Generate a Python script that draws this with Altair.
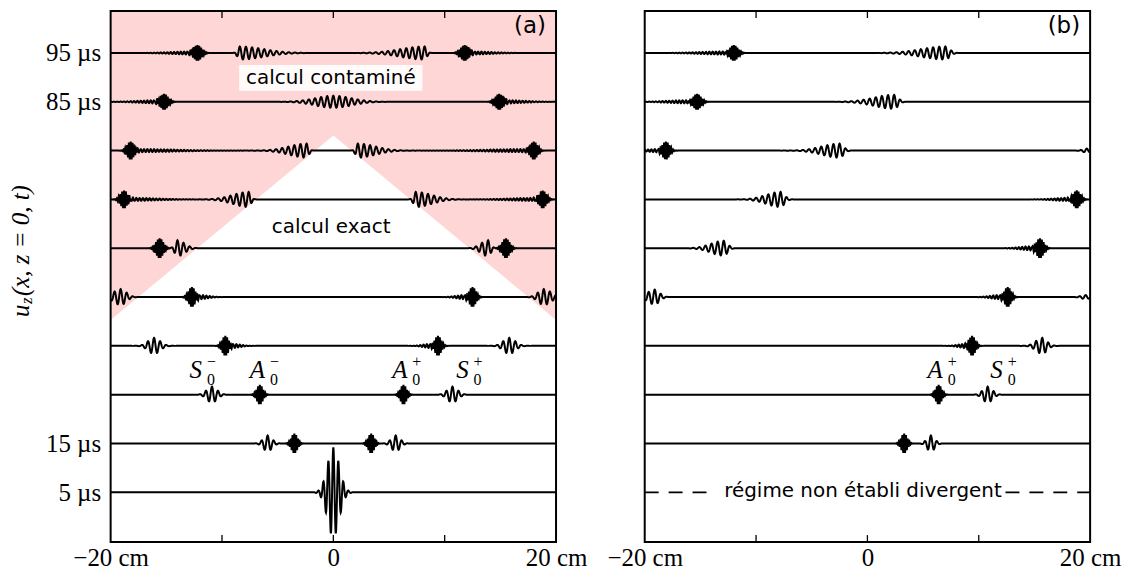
import numpy as np
import pandas as pd
import altair as alt

alt.data_transformers.disable_max_rows()

# ------------------------------------------------------------------
# Values
# ------------------------------------------------------------------
ROW_TIMES_A = [5, 15, 25, 35, 45, 55, 65, 75, 85, 95]      # µs, panel (a)
ROW_TIMES_B = [15, 25, 35, 45, 55, 65, 75, 85, 95]         # µs, panel (b)
Y_LABEL_VALUES = [5, 15, 85, 95]                           # labelled rows
X_LABEL_VALUES = [-20, 0, 20]                              # cm
X_TICKS = [-10, 0, 10]                                     # inner tick marks

# wave packets: (row time µs, centre cm, amplitude px, left width cm, right width cm)
SOURCE_PULSE = [(5, 0.0, 45, 0.75, 0.75)]
SOURCE_WAVELENGTH = 0.45

A0_PACKETS_A = [
    (15, -3.5, 10, 0.38, 0.38), (15, 3.4, 10, 0.38, 0.38),
    (25, -6.6, 10, 0.38, 0.38), (25, 6.3, 10, 0.38, 0.38),
    (35, -9.7, 10, 0.40, 0.40), (35, 9.4, 10, 0.40, 0.40),
    (45, -12.7, 10, 0.42, 0.42), (45, 12.5, 10, 0.42, 0.42),
    (55, -15.6, 10, 0.45, 0.45), (55, 15.5, 10, 0.45, 0.45),
    (65, -18.8, 9, 0.45, 0.45), (65, 18.8, 9, 0.45, 0.45),
    (75, -18.2, 9, 0.45, 0.45), (75, 18.0, 9, 0.45, 0.45),
    (85, -15.2, 8, 0.50, 0.50), (85, 14.9, 8, 0.50, 0.50),
    (95, -12.2, 8, 0.50, 0.50), (95, 11.8, 8, 0.50, 0.50),
]
A0_TAILS_A = [
    (35, -9.0, 2, 0.3, 0.9), (35, 8.7, 2, 0.9, 0.3),
    (45, -12.0, 2, 0.3, 1.1), (45, 11.8, 2, 1.1, 0.3),
    (65, -18.3, 1.5, 0.3, 3.5), (65, 18.3, 1.5, 3.5, 0.3),
    (75, -17.6, 1.5, 0.3, 5.0), (75, 17.4, 1.5, 5.0, 0.3),
    (85, -15.8, 1.5, 2.5, 0.3), (85, 15.5, 1.5, 0.3, 2.5),
    (95, -12.8, 1.5, 2.5, 0.3), (95, 12.4, 1.5, 0.3, 2.5),
]
S0_PACKETS_A = [
    (15, -5.9, 8, 0.55, 0.55), (15, 5.6, 8, 0.55, 0.55),
    (25, -10.9, 8, 0.65, 0.65), (25, 10.7, 8, 0.65, 0.65),
    (35, -16.1, 8, 0.75, 0.75), (35, 15.8, 8, 0.75, 0.75),
    (45, -19.1, 8, 0.90, 0.70), (45, 18.9, 8, 0.70, 0.90),
    (55, -14.0, 8, 0.35, 0.90), (55, 13.9, 8, 0.90, 0.35),
    (65, -7.6, 7.5, 2.0, 0.30), (65, 7.4, 7.5, 0.30, 2.0),
    (75, -2.4, 7, 2.2, 0.30), (75, 2.2, 7, 0.30, 2.2),
    (85, 0.0, 6, 2.3, 2.3),
    (95, -8.4, 6.5, 0.30, 3.0), (95, 8.2, 6.5, 3.0, 0.30),
]

A0_PACKETS_B = [
    (15, 3.3, 10, 0.38, 0.38), (25, 6.4, 10, 0.38, 0.38),
    (35, 9.4, 10, 0.40, 0.40), (45, 12.6, 10, 0.42, 0.42),
    (55, 15.5, 10, 0.45, 0.45), (65, 18.8, 9, 0.45, 0.45),
    (75, -18.1, 9, 0.45, 0.45), (85, -15.3, 8, 0.50, 0.50),
    (95, -12.0, 8, 0.50, 0.50),
]
A0_TAILS_B = [
    (35, 8.8, 2, 0.9, 0.3), (45, 11.9, 2, 1.2, 0.3),
    (55, 14.8, 2, 1.5, 0.3), (65, 18.0, 1.5, 1.8, 0.3),
    (75, -18.8, 1.5, 1.5, 0.3), (85, -16.3, 1.5, 2.5, 0.3),
    (95, -13.0, 1.5, 3.0, 0.3),
]
S0_PACKETS_B = [
    (15, 5.7, 8, 0.50, 0.50), (25, 10.8, 8, 0.60, 0.60),
    (35, 15.7, 8, 0.80, 0.60), (45, -19.1, 7.5, 0.90, 0.60),
    (55, -12.9, 7.5, 1.6, 0.50), (65, -7.8, 7.5, 1.8, 0.50),
    (75, -2.5, 7, 2.2, 0.50), (85, 2.4, 7, 2.5, 0.50),
    (95, 7.0, 6.5, 3.0, 0.55),
    (45, 19.6, 2, 0.60, 0.60), (75, 19.7, 2, 0.50, 0.50),
]
A0_WAVELENGTH = 0.16
TAIL_WAVELENGTH = 0.3
S0_WAVELENGTH = 0.55

# contaminated (pink) zone lower edge, panel (a)
ZONE_X = [-20, 0, 20]
ZONE_T = [40.3, 78.1, 40.3]

# annotations
TEXT_A = ["calcul contaminé", "calcul exact"]
TEXT_A_X = [-0.22, -0.2]
TEXT_A_T = [89.9, 59.3]
BOX_A = {"x": [-8.46], "x2": [8.0], "t": [87.24], "t2": [92.55]}
TAGS = ["(a)", "(b)"]
TAG_X = 19.1
TAG_T = 100.5
REGIME_TEXT = "régime non établi divergent"
REGIME_X = -0.4
REGIME_T = 5
DASH_X = [-20, 12.4]
DASH_X2 = [-13.6, 20]

MODE_LETTERS_A = ["S", "A", "A", "S"]
MODE_SIGNS_A = ["−", "−", "+", "+"]
MODE_X_A = [-12.24, -6.58, 6.2, 11.7]
MODE_LETTERS_B = ["A", "S"]
MODE_SIGNS_B = ["+", "+"]
MODE_X_B = [6.31, 11.7]
MODE_T = 30.1
MODE_SUB = "0"

# ------------------------------------------------------------------
W, H = 447, 533
Y_DOMAIN = [-5.2, 103.6]
PX_PER_US = H / (Y_DOMAIN[1] - Y_DOMAIN[0])
XS = np.round(np.arange(-20.0, 20.0001, 0.02), 3)


def build_rows(rows, groups):
    frames = []
    for t in rows:
        s = np.zeros_like(XS)
        for packets, lam in groups:
            for (tt, x0, amp, wl, wr) in packets:
                if tt != t:
                    continue
                w = np.where(XS < x0, wl, wr)
                s += amp * np.exp(-((XS - x0) / w) ** 2) * np.cos(2 * np.pi * (XS - x0) / lam)
        frames.append(pd.DataFrame({"x": XS, "y": np.round(t + s / PX_PER_US, 3), "row": t}))
    return pd.concat(frames, ignore_index=True)


wave_a = build_rows(ROW_TIMES_A, [(SOURCE_PULSE, SOURCE_WAVELENGTH), (A0_PACKETS_A, A0_WAVELENGTH),
                                  (A0_TAILS_A, TAIL_WAVELENGTH), (S0_PACKETS_A, S0_WAVELENGTH)])
wave_b = build_rows(ROW_TIMES_B, [(A0_PACKETS_B, A0_WAVELENGTH), (A0_TAILS_B, TAIL_WAVELENGTH),
                                  (S0_PACKETS_B, S0_WAVELENGTH)])

x_scale = alt.Scale(domain=[-20, 20], nice=False, zero=False)
y_scale = alt.Scale(domain=Y_DOMAIN, nice=False, zero=False)
SERIF = "Liberation Serif"
SANS = "DejaVu Sans"

x_axis = alt.Axis(values=X_LABEL_VALUES,
                  labelExpr='datum.value == 0 ? "0" : (datum.value < 0 ? "−" : "") + abs(datum.value) + " cm"',
                  ticks=False, tickSize=0, domain=False, grid=False, title=None,
                  labelFont=SERIF, labelFontSize=25, labelPadding=3, labelFlush=False,
                  labelOverlap=False, labelColor="black")
y_axis = alt.Axis(values=Y_LABEL_VALUES, labelExpr='datum.value + " µs"',
                  ticks=False, tickSize=0, domain=False, grid=False, title=None,
                  labelFont=SERIF, labelFontSize=25, labelPadding=10, labelOverlap=False,
                  labelColor="black")


def X(field):
    return alt.X(field, type="quantitative", scale=x_scale, axis=x_axis)


def Y(field, show_y=True):
    return alt.Y(field, type="quantitative", scale=y_scale, axis=y_axis if show_y else None)


def panel(wave_df, show_y, extra_layers, tag):
    layers = list(extra_layers)
    layers.append(alt.Chart(pd.DataFrame({"x": X_TICKS})).mark_rule(color="black", strokeWidth=1.3)
                  .encode(x=X("x"), y=alt.value(0), y2=alt.value(7)))
    layers.append(alt.Chart(pd.DataFrame({"x": X_TICKS})).mark_rule(color="black", strokeWidth=1.3)
                  .encode(x=X("x"), y=alt.value(H), y2=alt.value(H - 7)))
    layers.append(alt.Chart(wave_df).mark_line(color="black", strokeWidth=2.0, clip=True)
                  .encode(x=X("x"), y=Y("y", show_y), detail="row:N"))
    layers.append(alt.Chart(pd.DataFrame({"k": [0]})).mark_rect(filled=False, stroke="black", strokeWidth=2)
                  .encode(x=alt.value(0), x2=alt.value(W), y=alt.value(0), y2=alt.value(H)))
    layers.append(alt.Chart(pd.DataFrame({"label": [tag], "x": [TAG_X], "t": [TAG_T]}))
                  .mark_text(font=SANS, fontSize=23, align="right", baseline="middle", color="black")
                  .encode(x=X("x"), y=Y("t", show_y), text="label:N"))
    return alt.layer(*layers).properties(width=W, height=H)


def mode_labels(letters, signs, xs, show_y):
    df = pd.DataFrame({"letter": letters, "sign": signs, "x": xs, "t": [MODE_T] * len(xs),
                       "sub": [MODE_SUB] * len(xs)})
    base = alt.Chart(df)
    letter = base.mark_text(font=SERIF, fontStyle="italic", fontSize=25, align="right",
                            baseline="middle", dx=5, color="black").encode(x=X("x"), y=Y("t", show_y), text="letter:N")
    sub = base.mark_text(font=SERIF, fontSize=16, align="left", baseline="middle", dx=10, dy=10,
                         color="black").encode(x=X("x"), y=Y("t", show_y), text="sub:N")
    sup = base.mark_text(font=SERIF, fontSize=16, align="left", baseline="middle", dx=10, dy=-8,
                         color="black").encode(x=X("x"), y=Y("t", show_y), text="sign:N")
    return [letter, sub, sup]


# ---- panel (a) extras ----
zone = alt.Chart(pd.DataFrame({"x": ZONE_X, "t": ZONE_T, "top": [Y_DOMAIN[1]] * len(ZONE_X)})).mark_area(
    color="#ffd6d6", opacity=1).encode(x=X("x"), y=Y("t"), y2="top:Q")
box = alt.Chart(pd.DataFrame(BOX_A)).mark_rect(color="white", opacity=0.9).encode(
    x=X("x"), x2="x2", y=Y("t"), y2="t2")
ann_a = alt.Chart(pd.DataFrame({"label": TEXT_A, "x": TEXT_A_X, "t": TEXT_A_T})).mark_text(
    font=SANS, fontSize=20, align="center", baseline="middle", color="black").encode(
    x=X("x"), y=Y("t"), text="label:N")
title_anchor = alt.Data(values=[{}])
title_u = alt.Chart(title_anchor).mark_text(text="u", font=SERIF, fontStyle="italic", fontSize=25, angle=270,
                                            align="left", baseline="middle", dx=-67, color="black").encode(
    x=alt.value(-90), y=alt.value(240))
title_z = alt.Chart(title_anchor).mark_text(text="z", font=SERIF, fontStyle="italic", fontSize=17, angle=270,
                                            align="left", baseline="middle", dx=-54, dy=6, color="black").encode(
    x=alt.value(-90), y=alt.value(240))
title_rest = alt.Chart(title_anchor).mark_text(text="(x, z = 0, t)", font=SERIF, fontStyle="italic", fontSize=25,
                                               angle=270, align="left", baseline="middle", dx=-46,
                                               color="black").encode(x=alt.value(-90), y=alt.value(240))

panel_a = panel(wave_a, True,
                [zone, box, ann_a, title_u, title_z, title_rest] + mode_labels(MODE_LETTERS_A, MODE_SIGNS_A,
                                                                                MODE_X_A, True),
                TAGS[0])

# ---- panel (b) extras ----
dash = alt.Chart(pd.DataFrame({"x": DASH_X, "x2": DASH_X2, "t": [REGIME_T] * 2})).mark_rule(
    color="black", strokeWidth=1.8, strokeDash=[14, 10]).encode(x=X("x"), x2="x2", y=Y("t", False))
regime = alt.Chart(pd.DataFrame({"label": [REGIME_TEXT], "x": [REGIME_X], "t": [REGIME_T]})).mark_text(
    font=SANS, fontSize=20, align="center", baseline="middle", dy=-1, color="black").encode(
    x=X("x"), y=Y("t", False), text="label:N")

panel_b = panel(wave_b, False, [dash, regime] + mode_labels(MODE_LETTERS_B, MODE_SIGNS_B, MODE_X_B, False),
                TAGS[1])

chart = alt.hconcat(panel_a, panel_b, spacing=89, bounds="flush").properties(
    padding={"left": 0, "top": 0, "right": 0, "bottom": 0}
).configure_view(stroke="transparent")

chart.save("out.html", embed_options={"renderer": "svg", "actions": False})
